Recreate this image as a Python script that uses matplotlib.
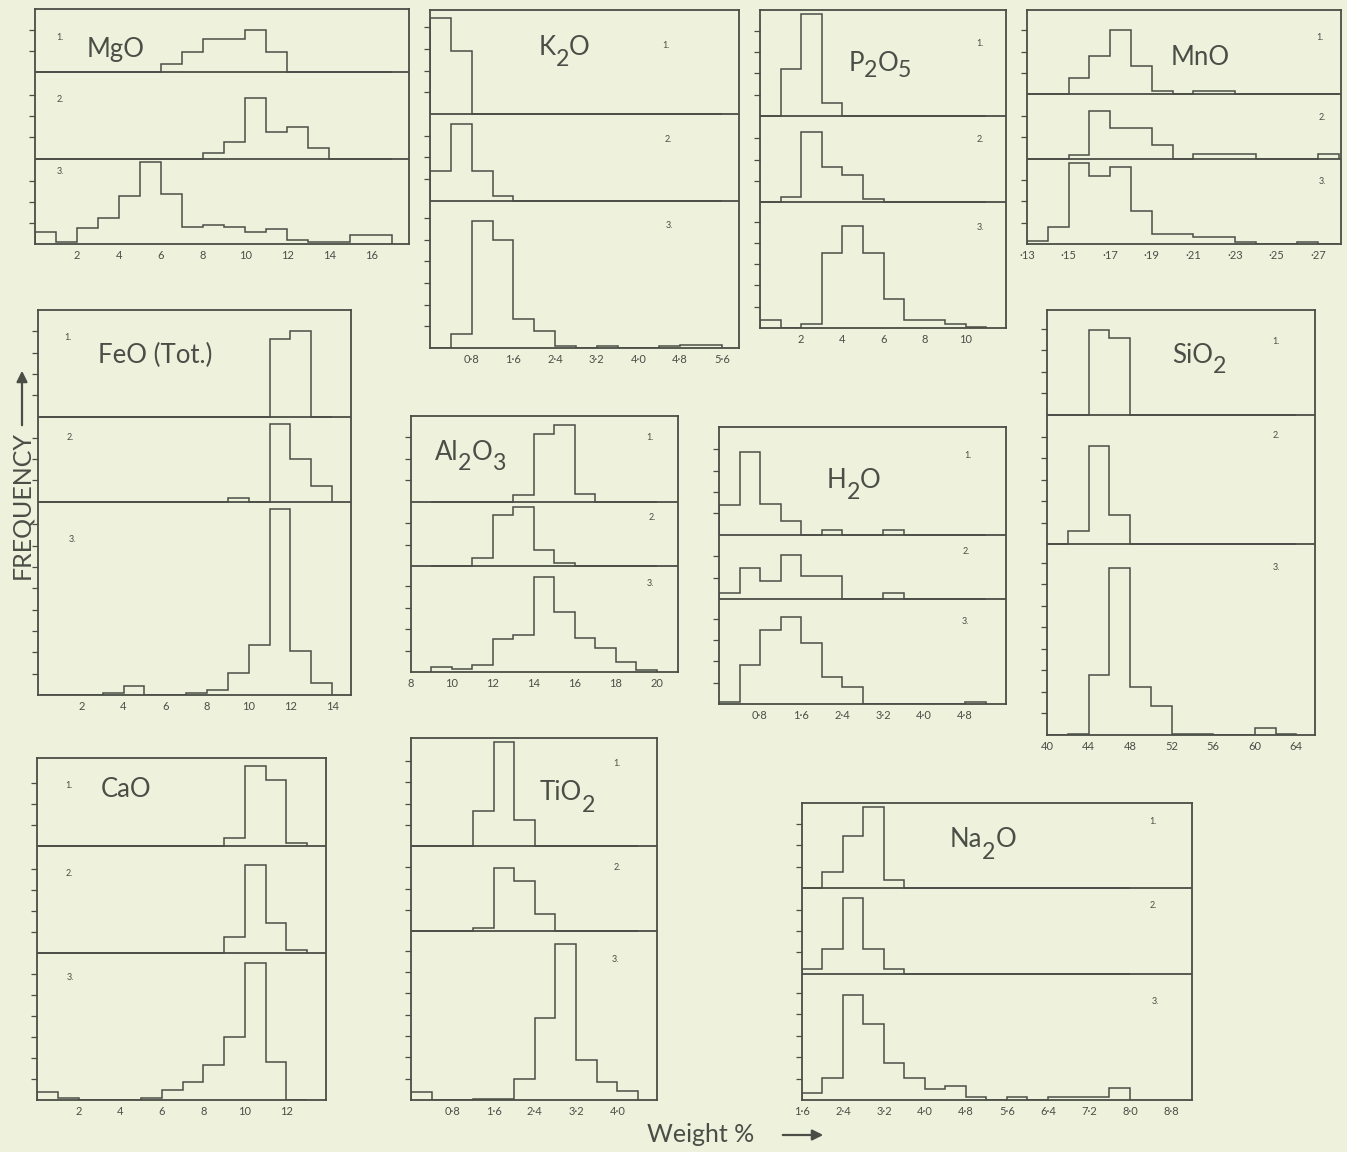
import numpy as np
import matplotlib
matplotlib.use('Agg')
import matplotlib.pyplot as plt
from matplotlib.patches import FancyArrowPatch

plt.rcParams['font.family'] = ['Lato', 'DejaVu Sans']

W, H = 1347, 1152
BG = '#eef1dc'
INK = '#4a4e46'

# heights are in frequency-tick units; strips listed as 1., 2., 3. (top to bottom)
mgo_edges = [0, 1, 2, 3, 4, 5, 6, 7, 8, 9, 10, 11, 12, 13, 14, 15, 16, 17]
mgo_1 = [0, 0, 0, 0, 0, 0, 0.37, 0.97, 1.59, 1.59, 2.02, 0.97, 0, 0, 0, 0, 0]
mgo_2 = [0, 0, 0, 0, 0, 0, 0, 0, 0.24, 0.79, 2.86, 1.25, 1.51, 0.48, 0, 0, 0]
mgo_3 = [0.56, 0.1, 0.76, 1.24, 2.3, 3.9, 2.38, 0.79, 0.92, 0.79, 0.56, 0.71, 0.17, 0.08, 0.08, 0.41, 0.41]

k2o_edges = [0, 0.4, 0.8, 1.2, 1.6, 2.0, 2.4, 2.8, 3.2, 3.6, 4.0, 4.4, 4.8, 5.2, 5.6]
k2o_1 = [4.43, 2.92, 0, 0, 0, 0, 0, 0, 0, 0, 0, 0, 0, 0]
k2o_2 = [1.38, 3.54, 1.35, 0.23, 0, 0, 0, 0, 0, 0, 0, 0, 0, 0]
k2o_3 = [0, 0.65, 5.85, 5.0, 1.34, 0.77, 0.08, 0, 0.08, 0, 0, 0.08, 0.15, 0.15]

p2o5_edges = [0, 1, 2, 3, 4, 5, 6, 7, 8, 9, 10, 11]
p2o5_1 = [0, 2.19, 4.77, 0.59, 0, 0, 0, 0, 0, 0, 0]
p2o5_2 = [0, 0.23, 3.28, 1.66, 1.27, 0.17, 0, 0, 0, 0, 0]
p2o5_3 = [0.39, 0, 0.19, 3.52, 4.81, 3.52, 1.38, 0.39, 0.39, 0.19, 0.05]

mno_edges = [13, 14, 15, 16, 17, 18, 19, 20, 21, 22, 23, 24, 25, 26, 27, 28]
mno_1 = [0, 0, 0.78, 1.77, 3.02, 1.34, 0.17, 0, 0.17, 0.17, 0, 0, 0, 0, 0]
mno_2 = [0, 0, 0.19, 2.25, 1.44, 1.44, 0.66, 0, 0.23, 0.23, 0.23, 0, 0, 0, 0.23]
mno_3 = [0.13, 0.78, 3.8, 3.2, 3.6, 1.56, 0.47, 0.47, 0.31, 0.31, 0.09, 0, 0, 0.09, 0]

feo_edges = [0, 1, 2, 3, 4, 5, 6, 7, 8, 9, 10, 11, 12, 13, 14]
feo_1 = [0, 0, 0, 0, 0, 0, 0, 0, 0, 0, 0, 3.63, 4.03, 0]
feo_2 = [0, 0, 0, 0, 0, 0, 0, 0, 0, 0.16, 0, 3.63, 2.0, 0.73]
feo_3 = [0, 0, 0, 0.08, 0.44, 0, 0, 0.08, 0.23, 1.05, 2.34, 8.7, 2.06, 0.58]

al_edges = [9, 10, 11, 12, 13, 14, 15, 16, 17, 18, 19, 20]
al_1 = [0, 0, 0, 0, 0.31, 3.17, 3.59, 0.36, 0, 0, 0]
al_2 = [0, 0, 0.39, 2.39, 2.73, 0.75, 0.16, 0, 0, 0, 0]
al_3 = [0.23, 0.16, 0.34, 1.52, 1.72, 4.45, 2.81, 1.59, 1.13, 0.47, 0.08]

h2o_edges = [0, 0.4, 0.8, 1.2, 1.6, 2.0, 2.4, 2.8, 3.2, 3.6, 4.0, 4.4, 4.8, 5.2]
h2o_1 = [1.41, 3.86, 1.44, 0.63, 0, 0.23, 0, 0, 0.23, 0, 0, 0, 0]
h2o_2 = [0.27, 1.47, 0.84, 2.06, 1.09, 1.09, 0, 0, 0.27, 0, 0, 0, 0]
h2o_3 = [0.08, 1.83, 3.47, 4.09, 2.84, 1.25, 0.78, 0, 0, 0, 0, 0, 0.08]

si_edges = [40, 42, 44, 46, 48, 50, 52, 54, 56, 58, 60, 62, 64]
si_1 = [0, 0, 3.95, 3.57, 0, 0, 0, 0, 0, 0, 0, 0]
si_2 = [0, 0.59, 4.54, 1.36, 0, 0, 0, 0, 0, 0, 0, 0]
si_3 = [0, 0.05, 2.79, 7.78, 2.25, 1.36, 0.05, 0.05, 0, 0, 0.34, 0.05]

cao_edges = [0, 1, 2, 3, 4, 5, 6, 7, 8, 9, 10, 11, 12, 13]
cao_1 = [0, 0, 0, 0, 0, 0, 0, 0, 0, 0.38, 3.8, 3.15, 0.15]
cao_2 = [0, 0, 0, 0, 0, 0, 0, 0, 0, 0.79, 4.2, 1.43, 0.16]
cao_3 = [0.37, 0.08, 0, 0, 0, 0.08, 0.48, 0.87, 1.67, 3.0, 6.5, 1.83, 0]

ti_edges = [0, 0.4, 0.8, 1.2, 1.6, 2.0, 2.4, 2.8, 3.2, 3.6, 4.0, 4.4]
ti_1 = [0, 0, 0, 1.64, 4.89, 1.22, 0, 0, 0, 0, 0]
ti_2 = [0, 0, 0, 0.16, 2.97, 2.34, 0.83, 0, 0, 0, 0]
ti_3 = [0.38, 0, 0, 0.06, 0.06, 1.0, 3.84, 7.33, 1.86, 0.84, 0.41]

na_edges = [1.6, 2.0, 2.4, 2.8, 3.2, 3.6, 4.0, 4.4, 4.8, 5.2, 5.6, 6.0, 6.4, 6.8, 7.2, 7.6, 8.0]
na_1 = [0, 0.75, 2.42, 3.78, 0.39, 0, 0, 0, 0, 0, 0, 0, 0, 0, 0, 0]
na_2 = [0.23, 1.16, 3.55, 1.17, 0.22, 0, 0, 0, 0, 0, 0, 0, 0, 0, 0, 0]
na_3 = [0.31, 1.02, 4.92, 3.55, 1.72, 1.02, 0.52, 0.67, 0.16, 0, 0.16, 0, 0.13, 0.13, 0.13, 0.55]

fig = plt.figure(figsize=(W / 100, H / 100), dpi=100, facecolor=BG)
renderer = fig.canvas.get_renderer()


def fpos(x, y):
    return x / W, 1 - y / H


def panel(box, xlim, edges, strips, heights, xt, xl):
    l, t, r, b = box
    ax = fig.add_axes([l / W, 1 - b / H, (r - l) / W, (b - t) / H])
    ax.set_facecolor('none')
    total = sum(heights)
    base = 0
    yt = []
    for vals, h in zip(strips[::-1], heights[::-1]):
        vals = np.asarray(vals, float)
        ax.stairs(vals + base, edges, baseline=base, color=INK, lw=1.1)
        yt += [base + k for k in range(1, int(h - 0.3) + 1)]
        base += h
        if base < total - 0.01:
            ax.axhline(base, color=INK, lw=1.3)
    ax.set_xlim(*xlim)
    ax.set_ylim(0, total)
    ax.set_yticks(yt)
    ax.set_yticklabels([])
    ax.set_xticks(xt, xl)
    ax.tick_params(axis='x', length=0, labelsize=8, pad=4, colors=INK)
    ax.tick_params(axis='y', length=4, width=0.9, direction='out', colors=INK)
    for s in ax.spines.values():
        s.set_color(INK)
        s.set_linewidth(1.3)
    return ax


def chem(parts, cx, base_y, drop, size=18.5):
    # formula with full-height, dropped subscripts, centred on cx
    objs = []
    for s, sub in parts:
        t = fig.text(0, 0, s, fontsize=size * (0.9 if sub else 1), color=INK,
                     ha='left', va='baseline')
        objs.append((t, sub, t.get_window_extent(renderer).width))
    x = cx - sum(o[2] for o in objs) / 2
    for t, sub, w in objs:
        t.set_position(fpos(x, base_y + (drop if sub else 0)))
        x += w


dec8 = ['0·8', '1·6', '2·4', '3·2', '4·0', '4·8', '5·6']

panel((35, 9, 409, 244), (0, 17.8), mgo_edges, [mgo_1, mgo_2, mgo_3], [3.0, 4.1, 4.06],
      [2, 4, 6, 8, 10, 12, 14, 16], ['2', '4', '6', '8', '10', '12', '14', '16'])
panel((430, 10, 739, 348), (0, 5.93), k2o_edges, [k2o_1, k2o_2, k2o_3], [4.8, 4.0, 6.8],
      [0.8, 1.6, 2.4, 3.2, 4.0, 4.8, 5.6], dec8)
panel((760, 10, 1006, 328), (0, 11.95), p2o5_edges, [p2o5_1, p2o5_2, p2o5_3], [4.97, 4.06, 5.9],
      [2, 4, 6, 8, 10], ['2', '4', '6', '8', '10'])
panel((1027, 10, 1341, 244), (13, 28.1), mno_edges, [mno_1, mno_2, mno_3], [3.95, 3.03, 4.0],
      [13, 15, 17, 19, 21, 23, 25, 27], ['·13', '·15', '·17', '·19', '·21', '·23', '·25', '·27'])
panel((38, 310, 351, 695), (-0.1, 14.9), feo_edges, [feo_1, feo_2, feo_3], [5.0, 3.98, 9.06],
      [2, 4, 6, 8, 10, 12, 14], ['2', '4', '6', '8', '10', '12', '14'])
panel((411, 416, 678, 672), (8, 21.05), al_edges, [al_1, al_2, al_3], [4.0, 3.0, 4.95],
      [8, 10, 12, 14, 16, 18, 20], ['8', '10', '12', '14', '16', '18', '20'])
panel((719, 427, 1006, 704), (0, 5.6), h2o_edges, [h2o_1, h2o_2, h2o_3], [5.05, 3.0, 4.92],
      [0.8, 1.6, 2.4, 3.2, 4.0, 4.8], dec8[:6])
panel((1047, 310, 1315, 735), (40, 65.8), si_edges, [si_1, si_2, si_3], [4.88, 6.0, 8.87],
      [40, 44, 48, 52, 56, 60, 64], ['40', '44', '48', '52', '56', '60', '64'])
panel((37, 758, 326, 1100), (0, 13.9), cao_edges, [cao_1, cao_2, cao_3], [4.2, 5.08, 6.98],
      [2, 4, 6, 8, 10, 12], ['2', '4', '6', '8', '10', '12'])
panel((411, 738, 657, 1100), (0, 4.77), ti_edges, [ti_1, ti_2, ti_3], [5.08, 3.98, 7.9],
      [0.8, 1.6, 2.4, 3.2, 4.0], dec8[:5])
panel((802, 803, 1192, 1100), (1.6, 9.21), na_edges, [na_1, na_2, na_3], [3.98, 4.0, 5.9],
      [1.6, 2.4, 3.2, 4.0, 4.8, 5.6, 6.4, 7.2, 8.0, 8.8],
      ['1·6', '2·4', '3·2', '4·0', '4·8', '5·6', '6·4', '7·2', '8·0', '8·8'])

# panel titles: (parts, centre x, baseline y, subscript drop)
chem([('MgO', 0)], 116, 57, 0)
chem([('K', 0), ('2', 1), ('O', 0)], 564, 55, 11)
chem([('P', 0), ('2', 1), ('O', 0), ('5', 1)], 880, 71, 6)
chem([('MnO', 0)], 1200, 65, 0)
chem([('FeO (Tot.)', 0)], 155, 363, 0)
chem([('Al', 0), ('2', 1), ('O', 0), ('3', 1)], 470, 460, 10)
chem([('H', 0), ('2', 1), ('O', 0)], 854, 488, 11)
chem([('SiO', 0), ('2', 1)], 1199, 363, 10)
chem([('CaO', 0)], 126, 797, 0)
chem([('TiO', 0), ('2', 1)], 567, 800, 12)
chem([('Na', 0), ('2', 1), ('O', 0)], 983, 847, 12)

# strip numbers
nums = [(60, 38, 60, 100, 60, 172), (666, 45, 668, 140, 669, 225), (980, 43, 980, 140, 980, 228),
        (1320, 37, 1322, 117, 1322, 182), (68, 338, 70, 438, 72, 540), (650, 437, 652, 518, 650, 583),
        (968, 456, 966, 551, 965, 621), (1276, 341, 1276, 435, 1276, 567), (69, 785, 69, 873, 70, 978),
        (617, 763, 617, 867, 615, 960), (1153, 821, 1153, 906, 1155, 1001)]
for row in nums:
    for i in range(3):
        fig.text(*fpos(row[2 * i], row[2 * i + 1]), f'{i + 1}.', fontsize=6.5, color=INK,
                 ha='center', va='center')

# axis captions with arrows
fig.text(*fpos(22, 505), 'FREQUENCY', rotation=90, fontsize=18, color=INK, ha='center', va='center')
fig.patches.append(FancyArrowPatch(fpos(22, 428), fpos(22, 368), transform=fig.transFigure,
                                   arrowstyle='-|>', mutation_scale=16, lw=1.6, color=INK))
fig.text(*fpos(701, 1135), 'Weight %', fontsize=18, color=INK, ha='center', va='center')
fig.patches.append(FancyArrowPatch(fpos(780, 1135), fpos(826, 1135), transform=fig.transFigure,
                                   arrowstyle='-|>', mutation_scale=16, lw=1.6, color=INK))

fig.savefig('out.png', dpi=100, facecolor=BG)
